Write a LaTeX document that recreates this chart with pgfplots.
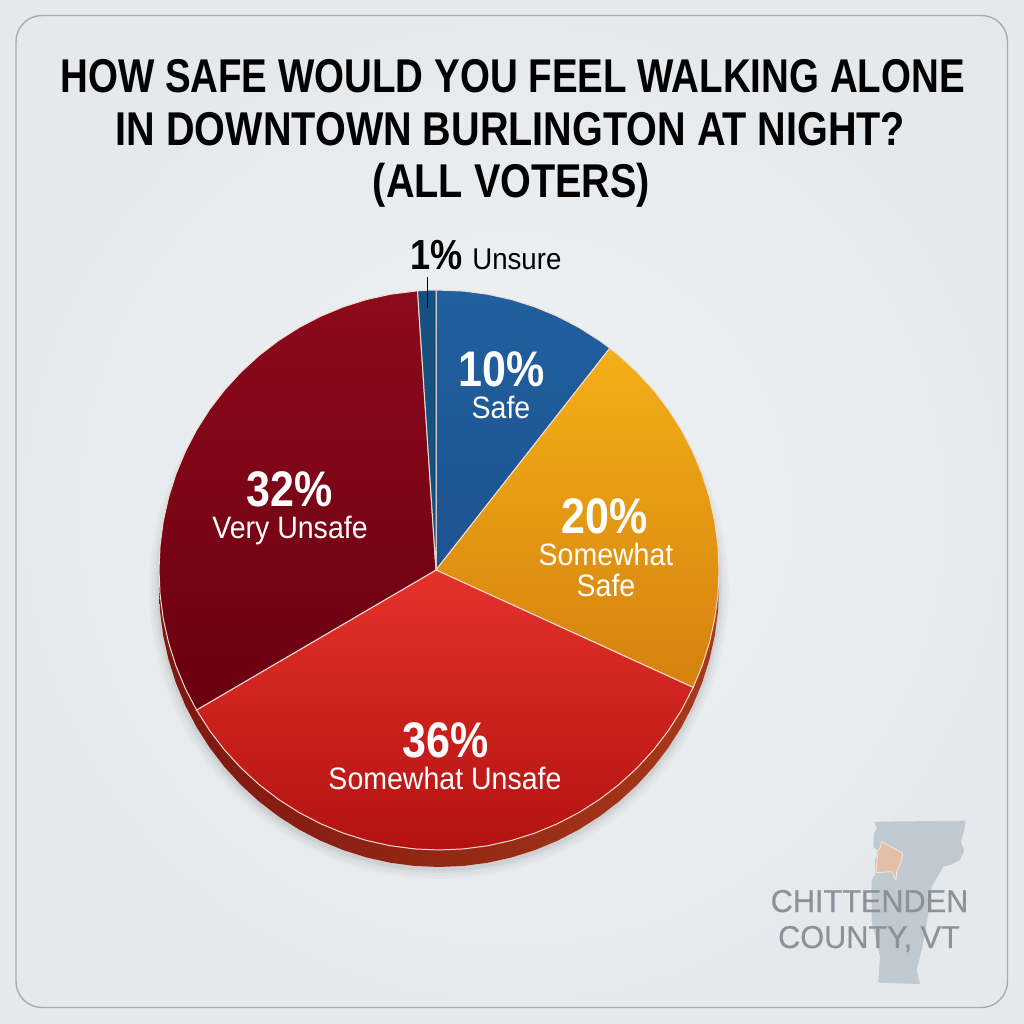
\documentclass[border=0pt]{standalone}
\usepackage{fontspec}
\setmainfont{Liberation Sans}
\newfontfamily\cond[FakeStretch=0.86]{Liberation Sans}
\newfontfamily\condt[FakeStretch=0.812]{Liberation Sans}
\newfontfamily\condu[FakeStretch=0.835]{Liberation Sans}
\newfontfamily\condn[FakeStretch=0.92]{Liberation Sans}
\newfontfamily\wm[FakeBold=0.5,FakeStretch=0.97]{Liberation Sans}
\usepackage{pgfplots}
\usepackage{pgfplotstable}
\pgfplotsset{compat=1.18}
\definecolor{bgin}{HTML}{F0F3F4}
\definecolor{bgout}{HTML}{E6E9EC}
\definecolor{frameC}{HTML}{A6ACB3}
\definecolor{sepC}{HTML}{F2DCD2}
\definecolor{SafeTop}{HTML}{215F9F}
\definecolor{SafeBot}{HTML}{1D5390}
\definecolor{SSafeTop}{HTML}{F3B017}
\definecolor{SSafeBot}{HTML}{D5810F}
\definecolor{SUnTop}{HTML}{E5322A}
\definecolor{SUnBot}{HTML}{B31212}
\definecolor{VUnTop}{HTML}{8C0A1C}
\definecolor{VUnBot}{HTML}{6A0010}
\definecolor{UnsureC}{HTML}{15507F}
\definecolor{RimL}{HTML}{7E1510}
\definecolor{RimR}{HTML}{A83A1A}
\definecolor{VTC}{HTML}{C1C9D0}
\definecolor{CountyC}{HTML}{E3BFA8}
\definecolor{CountyE}{HTML}{F4E9DF}
\definecolor{WaterC}{HTML}{8B9299}
\pgfplotstableread{
a r
0 280
5 280
10 280
15 280
20 280
25 280
30 280
35 280
40 280
45 280
50 280
55 280
60 280
65 280
70 280
75 280
80 280
85 280
90 280
95 280
100 280
105 280
110 280
115 280
120 280
125 280
130 280
135 280
140 280
145 280
150 280
155 280
160 280
165 280
170 280
175 280
180 280
185 280
190 280
195 280
200 280
205 280
210 280
215 280
220 280
225 280
230 280
235 280
240 280
245 280
250 280
255 280
260 280
265 280
270 280
275 280
280 280
285 280
290 280
295 280
300 280
305 280
310 280
315 280
320 280
325 280
330 280
335 280
340 280
345 280
350 280
355 280
360 280
}\circlepts
\begin{document}
\begin{tikzpicture}
\begin{scope}[x=0.5pt,y=-0.5pt,yshift=512pt]
\shade[inner color=bgin,outer color=bgout] (0,0) rectangle (1024,1024);
\draw[frameC,line width=0.7pt,rounded corners=13pt] (16,15.5) rectangle (1007.5,1007.5);
\end{scope}
\begin{axis}[
  at={(0,0)},anchor=south west,
  scale only axis,width=512pt,height=512pt,
  xmin=-439,xmax=585,ymin=-454,ymax=570,
  hide axis,clip=false,
  data cs=polar,
  no markers,
]
% soft shadow under the pie
\addplot[draw=none,fill=black,fill opacity=0.025,yshift=-9.5pt] table[x=a,y expr=\thisrow{r}+10] {\circlepts} -- cycle;
\addplot[draw=none,fill=black,fill opacity=0.025,yshift=-9.5pt] table[x=a,y expr=\thisrow{r}+7] {\circlepts} -- cycle;
\addplot[draw=none,fill=black,fill opacity=0.03,yshift=-9.5pt] table[x=a,y expr=\thisrow{r}+4] {\circlepts} -- cycle;
\addplot[draw=none,fill=black,fill opacity=0.04,yshift=-9.5pt] table[x=a,y expr=\thisrow{r}+2] {\circlepts} -- cycle;
% rim
\addplot[draw=none,left color=RimL,right color=RimR,yshift=-8.5pt] table[x=a,y=r] {\circlepts} -- cycle;
% Safe (10%)
\addplot[draw=sepC,line width=0.5pt,top color=SafeTop,bottom color=SafeBot] coordinates {
 (180,3) (90.6,280) (85,280) (80,280) (75,280) (70,280) (65,280) (60,280) (55,280) (52.4,280)} -- cycle;
% Somewhat Safe (20%)
\addplot[draw=sepC,line width=0.5pt,top color=SSafeTop,bottom color=SSafeBot] coordinates {
 (180,3) (52.4,280) (50,280) (45,280) (40,280) (35,280) (30,280) (25,280) (20,280) (15,280) (10,280) (5,280) (0,280) (-5,280) (-10,280) (-15,280) (-20,280) (-24.8,280)} -- cycle;
% Somewhat Unsafe (36%)
\addplot[draw=sepC,line width=0.5pt,top color=SUnTop,bottom color=SUnBot] coordinates {
 (180,3) (-24.8,280) (-30,280) (-35,280) (-40,280) (-45,280) (-50,280) (-55,280) (-60,280) (-65,280) (-70,280) (-75,280) (-80,280) (-85,280) (-90,280) (-95,280) (-100,280) (-105,280) (-110,280) (-115,280) (-120,280) (-125,280) (-130,280) (-135,280) (-140,280) (-145,280) (-150,280)} -- cycle;
% Very Unsafe (32%)
\addplot[draw=sepC,line width=0.5pt,top color=VUnTop,bottom color=VUnBot] coordinates {
 (180,3) (-150,280) (-155,280) (-160,280) (-165,280) (-170,280) (-175,280) (-180,280) (-185,280) (-190,280) (-195,280) (-200,280) (-205,280) (-210,280) (-215,280) (-220,280) (-225,280) (-230,280) (-235,280) (-240,280) (-245,280) (-250,280) (-255,280) (-260,280) (-265.6,280)} -- cycle;
% Unsure (1%)
\addplot[draw=sepC,line width=0.5pt,fill=UnsureC] coordinates {
 (180,3) (94.4,280) (92,280) (90.6,280)} -- cycle;
\end{axis}
\begin{scope}[x=0.5pt,y=-0.5pt,yshift=512pt]
% title
\tikzset{ttl/.style={font=\condt\bfseries\fontsize{23.7pt}{26pt}\selectfont,black,anchor=base,inner sep=0pt},
         ttu/.style={font=\condu\bfseries\fontsize{23.7pt}{26pt}\selectfont,black,anchor=base,inner sep=0pt}}
\node[ttl] at (512.5,93) {HOW SAFE WOULD YOU FEEL WALKING ALONE};
\node[ttu] at (510.5,146) {IN DOWNTOWN BURLINGTON AT NIGHT?};
\node[ttu] at (511.5,198) {(ALL VOTERS)};
% unsure callout
\node[font=\cond\bfseries\fontsize{21pt}{24pt}\selectfont,black,anchor=base west,inner sep=0pt] at (410,270) {1\%};
\node[font=\condn\fontsize{15pt}{16pt}\selectfont,black,anchor=base west,inner sep=0pt] at (472,270) {Unsure};
\draw[black,line width=0.5pt] (427,277) -- (427,308);
% slice labels
\tikzset{pct/.style={font=\cond\bfseries\fontsize{25pt}{28pt}\selectfont,white,anchor=base,inner sep=0pt},
         nam/.style={font=\condn\fontsize{15.5pt}{18pt}\selectfont,white,anchor=base,inner sep=0pt}}
\node[pct] at (502,387) {10\%};
\node[nam] at (501,419) {Safe};
\node[pct] at (605,534) {20\%};
\node[nam] at (606,566) {Somewhat};
\node[nam] at (606,597) {Safe};
\node[pct] at (290,507) {32\%};
\node[nam] at (290,539) {Very Unsafe};
\node[pct] at (446,758) {36\%};
\node[nam] at (445,790) {Somewhat Unsafe};
% Vermont watermark
\fill[VTC] (874.3,821.7) -- (965.7,820.7) -- (964,831.7) -- (960.7,841.7) -- (964.3,850) -- (960,860) -- (950,865) -- (943.3,866.7) -- (931.7,886.7) -- (928.3,913.3) -- (925,933.3) -- (921.7,950) -- (916.7,970) -- (920,984) -- (878.3,982.7) -- (880,956.7) -- (871.7,921.7) -- (871.7,880) -- (875,875) -- (875,860) -- (878.3,851.7) -- (873.3,846.7) -- (874,833.3) -- (876.7,828.3) -- cycle;
\filldraw[fill=CountyC,draw=CountyE,line width=0.4pt] (881.7,841.7) -- (896.7,850) -- (902.7,853.3) -- (900.7,863.3) -- (896.7,871.7) -- (896,880) -- (891.7,871.7) -- (876,872.7) -- (877.3,856.7) -- (876.7,851.7) -- (880,848.3) -- cycle;
\node[font=\wm\fontsize{15.8pt}{18pt}\selectfont,text=WaterC,anchor=base,inner sep=0pt] at (869.5,912) {CHITTENDEN};
\node[font=\wm\fontsize{15.8pt}{18pt}\selectfont,text=WaterC,anchor=base,inner sep=0pt] at (869,948) {COUNTY, VT};
\end{scope}
\end{tikzpicture}
\end{document}
